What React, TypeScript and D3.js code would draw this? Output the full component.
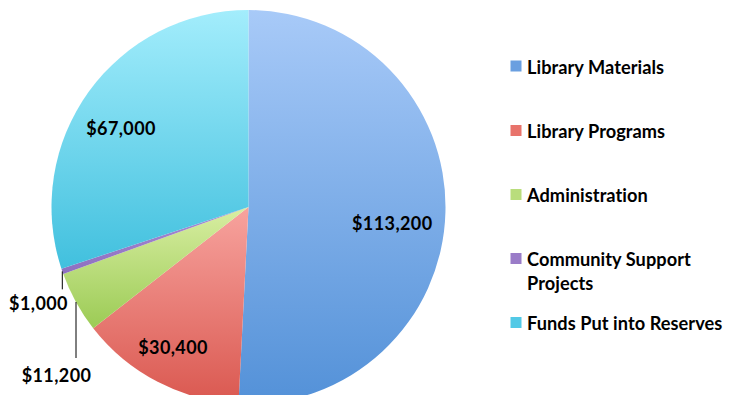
import React from "react";
import * as d3 from "d3";

const categories = ["Library Materials", "Library Programs", "Administration", "Community Support Projects", "Funds Put into Reserves"];
const legendLines = [["Library Materials"], ["Library Programs"], ["Administration"], ["Community Support", "Projects"], ["Funds Put into Reserves"]];
const values = [113200, 30400, 11200, 1000, 67000];
const valueLabels = ["$113,200", "$30,400", "$11,200", "$1,000", "$67,000"];
const topColors = ["#a8caf8", "#f7a39e", "#d8eea2", "#a98ed4", "#a3edfc"];
const bottomColors = ["#5391d8", "#da5850", "#9ccb55", "#8d6fc0", "#41c0de"];
const legendColors = ["#6a9fe0", "#e8736b", "#b9dd7c", "#9a7cc8", "#52c9e6"];

const W = 734, H = 403;
const cx = 248.5, cy = 207, R = 197;

export default function App() {
  const pie = d3.pie<number>().sort(null).value((d) => d)(values);
  const arc = d3.arc<d3.PieArcDatum<number>>().innerRadius(0).outerRadius(R);
  const labelArc = d3.arc<d3.PieArcDatum<number>>().innerRadius(R * 0.72).outerRadius(R * 0.72);
  const font = "Lato, 'Open Sans', sans-serif";
  const fs = 18;
  const ls = 0.4;
  const fsLegend = 18.2;
  const lsLegend = 0.05;

  const outer = (i: number) => {
    const a = (pie[i].startAngle + pie[i].endAngle) / 2;
    return [cx + R * Math.sin(a), cy - R * Math.cos(a)];
  };
  const p1000 = outer(3);

  const legendBase = [73.5, 138, 202, 266, 330];
  const inAdj: Record<number, [number, number]> = { 0: [2, 12], 1: [-10, 14], 4: [-12.5, 4] };

  return (
    <div style={{ margin: -8, width: W, height: H, background: "#fff" }}>
      <svg width={W} height={H} style={{ display: "block" }}>
        <defs>
          {categories.map((c, i) => (
            <linearGradient key={c} id={`g${i}`} x1="0" y1="0" x2="0" y2="1">
              <stop offset="0" stopColor={topColors[i]} />
              <stop offset="1" stopColor={bottomColors[i]} />
            </linearGradient>
          ))}
        </defs>
        <g transform={`translate(${cx},${cy})`}>
          {pie.map((p, i) => (
            <path key={i} d={arc(p) || ""} fill={`url(#g${i})`} />
          ))}
        </g>
        {[0, 1, 4].map((i) => {
          const [x, y] = labelArc.centroid(pie[i]);
          const adj = inAdj[i];
          return (
            <text key={i} x={cx + x + adj[0]} y={cy + y + adj[1]} textAnchor="middle" dominantBaseline="central"
              fontFamily={font} fontWeight="bold" fontSize={fs} letterSpacing={ls} fill="#000">
              {valueLabels[i]}
            </text>
          );
        })}
        <line x1={p1000[0]} y1={p1000[1]} x2={p1000[0]} y2={p1000[1] + 18} stroke="#000" strokeWidth={1} />
        <text x={38.5} y={303} textAnchor="middle" dominantBaseline="central" fontFamily={font} fontWeight="bold" fontSize={fs} letterSpacing={ls}>
          {valueLabels[3]}
        </text>
        <line x1={76} y1={302} x2={76} y2={358} stroke="#000" strokeWidth={1} />
        <text x={56.5} y={375} textAnchor="middle" dominantBaseline="central" fontFamily={font} fontWeight="bold" fontSize={fs} letterSpacing={ls}>
          {valueLabels[2]}
        </text>
        {categories.map((c, i) => (
          <g key={c}>
            <rect x={510.5} y={legendBase[i] - 13} width={11} height={11} fill={legendColors[i]} />
            <text fontFamily={font} fontWeight="bold" fontSize={fsLegend} letterSpacing={lsLegend} fill="#000">
              {legendLines[i].map((ln, j) => (
                <tspan key={j} x={527} y={legendBase[i] + j * 23.5}>{ln}</tspan>
              ))}
            </text>
          </g>
        ))}
      </svg>
    </div>
  );
}
